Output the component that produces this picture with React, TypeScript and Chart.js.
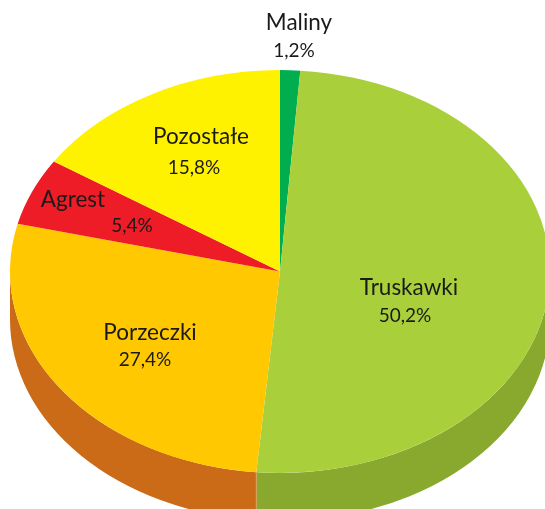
import React, { useEffect, useRef } from "react";
import { Chart, registerables } from "chart.js";

Chart.register(...registerables);

const categories = ["Maliny", "Truskawki", "Porzeczki", "Agrest", "Pozostałe"];
const shares = [1.2, 50.2, 27.4, 5.4, 15.8];
const valueLabels = ["1,2%", "50,2%", "27,4%", "5,4%", "15,8%"];
const topColors = ["#00AE50", "#A9D03B", "#FFC800", "#EE1C27", "#FFF200"];
const sideColors = ["#008A3E", "#88A92E", "#CB6B18", "#C01018", "#CCC000"];

const SQUASH = 0.746;
const DEPTH = 48;
const FONT = "Lato, 'Open Sans', sans-serif";
// offsets from the pie centre in px: [name x, name y, value x, value y]
const labelAnchors = [
  [19, -249, 14, -221],
  [129, 16, 125, 44],
  [-130, 61, -135, 88],
  [-207, -72, -148, -46],
  [-79, -135, -86, -104],
];

const squashPlugin = {
  id: "squash",
  beforeDatasetsDraw(chart: any) {
    const { ctx } = chart;
    const arcs = chart.getDatasetMeta(0).data;
    const { x: cx, y: cy, outerRadius: r } = arcs[0];
    const ry = r * SQUASH;
    ctx.save();
    arcs.forEach((arc: any, i: number) => {
      const a0 = Math.max(arc.startAngle, 0);
      const a1 = Math.min(arc.endAngle, Math.PI);
      if (a1 <= a0) return;
      ctx.fillStyle = sideColors[i];
      ctx.beginPath();
      ctx.ellipse(cx, cy, r, ry, 0, a0, a1);
      ctx.ellipse(cx, cy + DEPTH, r, ry, 0, a1, a0, true);
      ctx.closePath();
      ctx.fill();
    });
    // light seam where two wall faces meet
    arcs.forEach((arc: any) => {
      const a = arc.endAngle;
      if (a <= 0 || a >= Math.PI) return;
      const sx = cx + r * Math.cos(a);
      const sy = cy + ry * Math.sin(a);
      ctx.strokeStyle = "#DDA060";
      ctx.lineWidth = 1;
      ctx.beginPath();
      ctx.moveTo(sx, sy);
      ctx.lineTo(sx, sy + DEPTH);
      ctx.stroke();
    });
    ctx.restore();
    ctx.save();
    ctx.translate(cx, cy);
    ctx.scale(1, SQUASH);
    ctx.translate(-cx, -cy);
  },
  afterDatasetsDraw(chart: any) {
    const { ctx } = chart;
    ctx.restore();
    const { x: cx, y: cy } = chart.getDatasetMeta(0).data[0];
    ctx.save();
    ctx.fillStyle = "#1a1a1a";
    ctx.textAlign = "center";
    ctx.textBaseline = "middle";
    ctx.font = `22.5px ${FONT}`;
    categories.forEach((c, i) => {
      ctx.fillText(c, cx + labelAnchors[i][0], cy + labelAnchors[i][1]);
    });
    ctx.font = `19px ${FONT}`;
    valueLabels.forEach((v, i) => {
      ctx.fillText(v, cx + labelAnchors[i][2], cy + labelAnchors[i][3]);
    });
    ctx.restore();
  },
};

export default function App() {
  const ref = useRef<HTMLCanvasElement>(null);
  useEffect(() => {
    document.body.style.margin = "0";
    const chart = new Chart(ref.current!, {
      type: "pie",
      data: {
        labels: categories,
        datasets: [{ data: shares, backgroundColor: topColors, borderWidth: 0 }],
      },
      options: {
        responsive: false,
        animation: false,
        radius: 270,
        layout: { padding: { left: 15, right: 0, top: 34, bottom: 0 } },
        plugins: { legend: { display: false }, tooltip: { enabled: false } },
      } as any,
      plugins: [squashPlugin],
    });
    return () => chart.destroy();
  }, []);
  return <canvas ref={ref} width={545} height={509} style={{ display: "block" }} />;
}
